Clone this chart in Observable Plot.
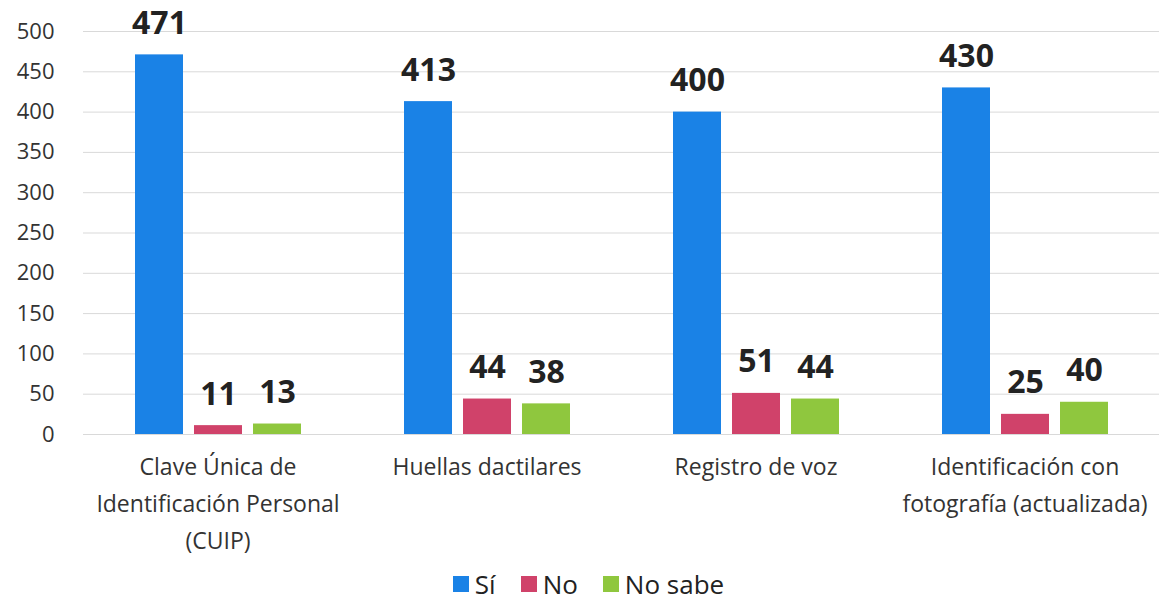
<!DOCTYPE html>
<html>
<head>
<meta charset="utf-8">
<script src="https://cdn.jsdelivr.net/npm/d3@7"></script>
<script src="https://cdn.jsdelivr.net/npm/@observablehq/plot@0.6"></script>
<style>
  body { margin: 0; background: #fff; font-family: "Open Sans", sans-serif; }
  #legend { display: flex; justify-content: center; align-items: center; gap: 25px; height: 40px; font-size: 26px; line-height: 1; color: #222; padding-left: 12px; }
  #legend span.item { display: flex; align-items: center; gap: 6px; }
  #legend span.sw { width: 16px; height: 16px; display: inline-block; }
</style>
</head>
<body>
<div id="chart"></div>
<div id="legend"></div>
<script>
const categories = [
  "Clave Única de\nIdentificación Personal\n(CUIP)",
  "Huellas dactilares",
  "Registro de voz",
  "Identificación con\nfotografía (actualizada)"
];
const seriesNames = ["Sí", "No", "No sabe"];
const siValues = [471, 413, 400, 430];
const noValues = [11, 44, 51, 25];
const noSabeValues = [13, 38, 44, 40];
const yTicks = [0, 50, 100, 150, 200, 250, 300, 350, 400, 450, 500];
const colors = ["#1a82e6", "#d0426a", "#8fc73e"];

const seriesValues = [siValues, noValues, noSabeValues];
const data = [];
categories.forEach((c, i) => {
  seriesNames.forEach((s, j) => {
    data.push({category: c, series: s, value: seriesValues[j][i]});
  });
});

const chart = Plot.plot({
  width: 1165,
  height: 564,
  marginLeft: 82,
  marginRight: 6,
  marginTop: 31,
  marginBottom: 130,
  style: {fontFamily: "'Open Sans', sans-serif", color: "#333", background: "#fff"},
  fx: {domain: categories, padding: 0, label: null},
  x: {domain: seriesNames, paddingInner: 0.19, paddingOuter: 0.855, axis: null},
  y: {domain: [0, 500], label: null},
  color: {domain: seriesNames, range: colors},
  marks: [
    Plot.gridY(yTicks, {stroke: "#d9d9d9", strokeOpacity: 1, strokeWidth: 1}),
    Plot.axisY(yTicks, {tickSize: 0, tickPadding: 29, fontSize: 22, fill: "#333", label: null}),
    Plot.axisFx({anchor: "bottom", tickSize: 0, tickPadding: 15, fontSize: 23, lineHeight: 1.59, fill: "#333", label: null}),
    Plot.barY(data, {fx: "category", x: "series", y: "value", fill: "series"}),
    Plot.text(data, {fx: "category", x: "series", y: "value", text: d => String(d.value),
      lineAnchor: "bottom", dy: -21, fontSize: 32, fontWeight: "bold", fill: "#222"})
  ]
});
document.getElementById("chart").appendChild(chart);

const legend = document.getElementById("legend");
seriesNames.forEach((s, j) => {
  const item = document.createElement("span");
  item.className = "item";
  const sw = document.createElement("span");
  sw.className = "sw";
  sw.style.background = colors[j];
  item.appendChild(sw);
  item.appendChild(document.createTextNode(s));
  legend.appendChild(item);
});
</script>
</body>
</html>
